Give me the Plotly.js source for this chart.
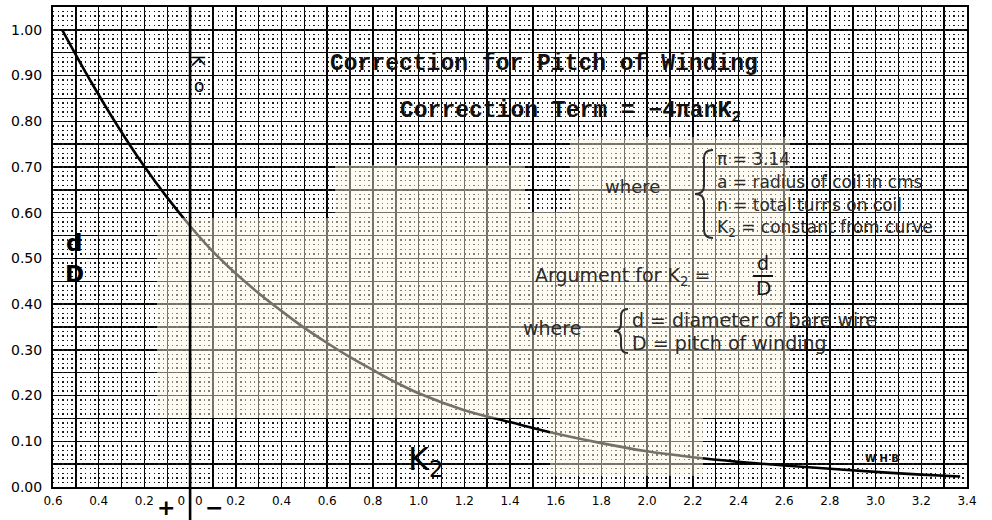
<!DOCTYPE html>
<html>
<head>
<meta charset="utf-8">
<script src="https://cdn.plot.ly/plotly-3.0.1.min.js"></script>
<style>
html,body{margin:0;padding:0;background:#fff;}
#chart{width:992px;height:520px;}
</style>
</head>
<body>
<div id="chart"></div>
<script>
// ---- data (x = K2 axis, y = d/D) ----
const curveX = [-0.56,-0.44,-0.32,-0.2,-0.1,0,0.1,0.2,0.3,0.4,0.5,0.6,0.7,0.8,0.9,1.0,1.2,1.4,1.6,1.8,2.0,2.2,2.4,2.6,2.8,3.0,3.2,3.37];
const curveY = [1.00,0.892,0.792,0.701,0.633,0.571,0.515,0.467,0.424,0.385,0.348,0.315,0.284,0.256,0.229,0.205,0.168,0.142,0.117,0.096,0.078,0.065,0.055,0.047,0.040,0.033,0.027,0.023];

// ---- tick labels ----
const xLabelVals = [-0.6,-0.4,-0.2,0,0.2,0.4,0.6,0.8,1.0,1.2,1.4,1.6,1.8,2.0,2.2,2.4,2.6,2.8,3.0,3.2,3.4];
const xLabelText = ["0.6","0.4","0.2","0\u2002 0","0.2","0.4","0.6","0.8","1.0","1.2","1.4","1.6","1.8","2.0","2.2","2.4","2.6","2.8","3.0","3.2","3.4"];
const yLabelVals = [0,0.1,0.2,0.3,0.4,0.5,0.6,0.7,0.8,0.9,1.0];
const yLabelText = ["0.00","0.10","0.20","0.30","0.40","0.50","0.60","0.70","0.80","0.90","1.00"];

// ---- pixel helpers for decoration placement ----
const L = 53, R = 967, T = 7, B = 487;
const px = x => (x - L) / (R - L);
const py = y => (B - y) / (B - T);
function ann(text, x, y, o) {
  return Object.assign({text: text, x: px(x), y: py(y), xref: 'paper', yref: 'paper',
    showarrow: false, xanchor: 'left', yanchor: 'middle',
    font: {family: 'DejaVu Sans', size: 17, color: '#2b2b2b'}}, o || {});
}
function brace(xr, yt, yb, w) {
  const xm = xr - w * 0.5, xl = xr - w, ym = (yt + yb) / 2, d = Math.min(8, (yb - yt) / 6);
  const P = (x, y) => px(x).toFixed(5) + ',' + py(y).toFixed(5);
  return {type: 'path', xref: 'paper', yref: 'paper', layer: 'above',
    line: {color: '#2b2b2b', width: 2},
    path: 'M' + P(xr, yt) + ' Q' + P(xm, yt) + ' ' + P(xm, yt + d) +
      ' L' + P(xm, ym - d) + ' Q' + P(xm, ym) + ' ' + P(xl, ym) +
      ' Q' + P(xm, ym) + ' ' + P(xm, ym + d) +
      ' L' + P(xm, yb - d) + ' Q' + P(xm, yb) + ' ' + P(xr, yb)};
}
// tinted (scanned colour) patch, in pixel outline
const patchPx = [[157,218],[335,218],[335,165],[525,165],[525,212],[570,212],[570,137],[790,137],[790,418],[703,418],[703,476],[550,476],[550,418],[157,418]];
const patchPath = 'M' + patchPx.map(p => px(p[0]).toFixed(5) + ',' + py(p[1]).toFixed(5)).join(' L') + ' Z';

const titleFont = {family: 'Liberation Mono', size: 23, color: '#111'};

const data = [
  {x: [], y: [], xaxis: 'x', yaxis: 'y2', type: 'scatter', mode: 'lines', hoverinfo: 'skip'},
  {x: curveX, y: curveY, type: 'scatter', mode: 'lines',
   line: {color: '#000', width: 2.6, shape: 'spline', smoothing: 1}, hoverinfo: 'skip'}
];

const layout = {
  width: 992, height: 520,
  margin: {l: L, r: 992 - R, t: T, b: 520 - B, pad: 0},
  paper_bgcolor: '#fff', plot_bgcolor: '#fff',
  showlegend: false,
  xaxis: {
    range: [-0.6, 3.4], tickmode: 'array', tickvals: xLabelVals, ticktext: xLabelText,
    showgrid: true, gridcolor: '#000', gridwidth: 1.5, zeroline: false,
    showline: true, mirror: true, linecolor: '#000', linewidth: 2,
    ticks: '', ticklabelstandoff: 2,
    tickfont: {family: 'DejaVu Sans', size: 12, color: '#000'},
    minor: {tickmode: 'linear', tick0: 0, dtick: 0.1, showgrid: true, gridcolor: '#000', gridwidth: 1.5, ticks: ''},
    fixedrange: true
  },
  yaxis: {
    range: [0, 1.05], tickmode: 'array', tickvals: yLabelVals, ticktext: yLabelText,
    showgrid: true, gridcolor: '#000', gridwidth: 1.5, zeroline: false,
    showline: true, mirror: true, linecolor: '#000', linewidth: 2,
    ticks: '', ticklabelstandoff: 6,
    tickfont: {family: 'DejaVu Sans', size: 14, color: '#000'},
    minor: {tickmode: 'linear', tick0: 0, dtick: 0.05, showgrid: true, gridcolor: '#000', gridwidth: 1.5, ticks: ''},
    fixedrange: true
  },
  yaxis2: {
    overlaying: 'y', anchor: 'x', range: [0, 1.05], tickmode: 'linear', tick0: 0, dtick: 0.01,
    showticklabels: false, ticks: '', zeroline: false, showline: false,
    showgrid: true, gridcolor: '#1a1a1a', gridwidth: 1.4, griddash: '1.4px,3.17px',
    fixedrange: true
  },
  shapes: [
    {type: 'path', xref: 'paper', yref: 'paper', layer: 'above', path: patchPath,
      fillcolor: 'rgba(250,246,226,0.46)', line: {width: 0}},
    {type: 'line', xref: 'x', yref: 'paper', x0: 0, x1: 0, y0: -0.07, y1: 1,
      line: {color: '#000', width: 2.6}, layer: 'above'},
    brace(713, 150, 238, 18),
    brace(628, 309, 353, 14),
    {type: 'line', xref: 'paper', yref: 'paper', x0: px(753), x1: px(773), y0: py(276), y1: py(276),
      line: {color: '#111', width: 2}, layer: 'above'}
  ],
  annotations: [
    ann('<b>Correction for Pitch of Winding</b>', 328, 64, {font: titleFont}),
    ann('<b>Correction Term = \u22124\u03c0anK<sub>2</sub></b>', 398, 112, {font: titleFont}),
    ann('where', 603, 186, {font: {family: 'DejaVu Sans', size: 18, color: '#2b2b2b'}}),
    ann('\u03c0 = 3.14', 715, 159),
    ann('a = radius of coil in cms', 715, 182),
    ann('n = total turns on coil', 715, 205),
    ann('K<sub>2</sub> = constant from curve', 715, 228),
    ann('Argument for K<sub>2</sub> =', 533, 276, {font: {family: 'DejaVu Sans', size: 19, color: '#2b2b2b'}}),
    ann('d', 763, 263, {xanchor: 'center', font: {family: 'DejaVu Sans', size: 19, color: '#111'}}),
    ann('D', 763, 288, {xanchor: 'center', font: {family: 'DejaVu Sans', size: 20, color: '#111'}}),
    ann('where', 521, 328, {font: {family: 'DejaVu Sans', size: 19, color: '#2b2b2b'}}),
    ann('d = diameter of bare wire', 630, 320, {font: {family: 'DejaVu Sans', size: 19, color: '#2b2b2b'}}),
    ann('D = pitch of winding', 630, 343, {font: {family: 'DejaVu Sans', size: 19, color: '#2b2b2b'}}),
    ann('K<sub>2</sub>', 406, 461, {font: {family: 'DejaVu Sans', size: 32, color: '#000'}}),
    ann('<b>d</b>', 74, 243, {xanchor: 'center', font: {family: 'DejaVu Sans', size: 23, color: '#000'}}),
    ann('<b>D</b>', 74, 274, {xanchor: 'center', font: {family: 'DejaVu Sans', size: 23, color: '#000'}}),
    ann('K', 198, 61, {xanchor: 'center', textangle: 90, font: {family: 'DejaVu Sans', size: 17, color: '#000'}}),
    ann('o', 199, 86, {xanchor: 'center', font: {family: 'DejaVu Sans', size: 17, color: '#000'}}),
    ann('<b>+</b>', 166, 507, {xanchor: 'center', font: {family: 'DejaVu Sans', size: 22, color: '#000'}}),
    ann('<b>\u2212</b>', 214, 507, {xanchor: 'center', font: {family: 'DejaVu Sans', size: 22, color: '#000'}}),
    ann('<b>W H B</b>', 882, 458, {xanchor: 'center', font: {family: 'DejaVu Sans', size: 10, color: '#111'}})
  ]
};

Plotly.newPlot('chart', data, layout, {staticPlot: true, displayModeBar: false});
</script>
</body>
</html>
